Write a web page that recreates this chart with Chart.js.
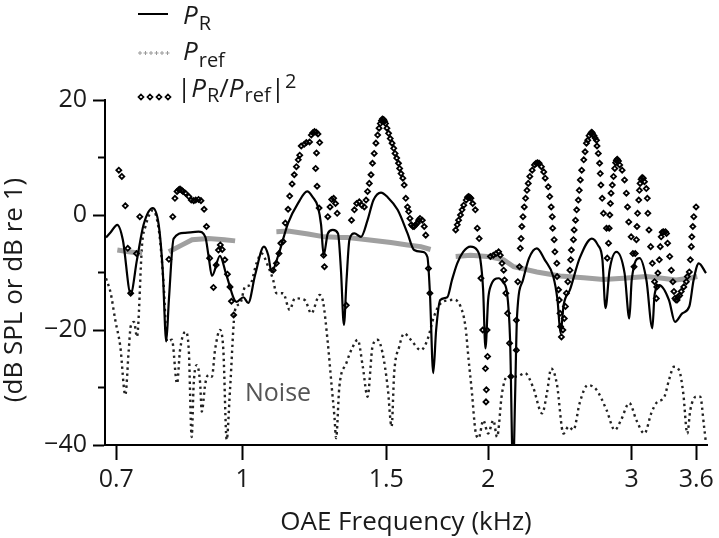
<!DOCTYPE html>
<html><head><meta charset="utf-8">
<script src="https://cdn.jsdelivr.net/npm/chart.js@4/dist/chart.umd.min.js"></script>
<style>html,body{margin:0;padding:0;background:#fff}</style>
</head><body>
<canvas id="c" width="719" height="538"></canvas>
<script>
// ---- tick definitions ----
const xTickValues = [0.7, 1, 1.5, 2, 3, 3.6];
const xTickLabels = ['0.7', '1', '1.5', '2', '3', '3.6'];
const yMajorTicks = [-40, -20, 0, 20];
const yMinorTicks = [-30, -10, 10];

// ---- P_R (solid line) ----
const prFreq = [0.680,0.689,0.702,0.713,0.729,0.742,0.756,0.776,0.789,0.798,0.806,0.812,0.823,0.850,0.883,0.900,0.908,0.917,0.938,0.955,0.983,1.002,1.016,1.036,1.062,1.075,1.085,1.106,1.137,1.170,1.200,1.219,1.237,1.248,1.257,1.272,1.290,1.309,1.320,1.331,1.341,1.352,1.371,1.397,1.423,1.447,1.478,1.506,1.549,1.593,1.623,1.661,1.685,1.697,1.713,1.727,1.747,1.782,1.806,1.833,1.864,1.903,1.939,1.957,1.972,1.985,2.000,2.013,2.061,2.086,2.110,2.128,2.146,2.158,2.170,2.207,2.245,2.295,2.347,2.404,2.433,2.454,2.475,2.520,2.590,2.680,2.726,2.762,2.786,2.818,2.873,2.940,2.980,3.000,3.067,3.127,3.180,3.200,3.243,3.333,3.390,3.460,3.530,3.573,3.625,3.700];
const prDb = [-3.9,-3.0,-1.7,-4.3,-13.7,-7.8,-1.7,1.2,-1.7,-9.6,-22.0,-14.8,-4.1,-3.1,-2.9,-3.8,-7.0,-10.6,-7.1,-10.4,-15.1,-14.3,-15.3,-10.4,-5.5,-7.0,-9.9,-7.0,-1.4,2.1,4.1,3.1,1.4,-1.7,-7.0,-3.2,-2.6,-3.2,-9.6,-19.1,-11.3,-4.3,-3.2,-3.8,-0.9,2.6,3.9,3.1,0.9,-3.2,-6.1,-6.4,-7.3,-13.6,-27.5,-20.0,-14.8,-14.3,-11.3,-8.4,-6.4,-5.5,-6.1,-7.8,-13.0,-23.2,-14.8,-12.5,-11.0,-11.7,-13.6,-21.7,-45,-32,-17.7,-11.3,-7.5,-5.8,-7.8,-10.7,-14.8,-20.6,-15.7,-13.0,-7.5,-4.1,-5.2,-7.8,-16.2,-9.6,-6.4,-10.1,-18.0,-11.3,-7.5,-11.3,-19.7,-13.9,-12.2,-14.8,-18.6,-17.1,-15.9,-11.3,-8.4,-10.1];

// ---- P_ref (grey), four segments ----
const prefFreq1 = [0.702,0.725,0.753];
const prefDb1 = [-6.1,-6.4,-6.7];
const prefFreq2 = [0.812,0.843,0.867,0.908,0.950,0.979];
const prefDb2 = [-6.4,-5.2,-4.3,-4.1,-4.3,-4.5];
const prefFreq3 = [1.100,1.137,1.203,1.260,1.320,1.346,1.423,1.520,1.593,1.654,1.700];
const prefDb3 = [-2.9,-2.8,-3.3,-3.8,-3.9,-3.9,-4.3,-4.8,-5.2,-5.5,-6.0];
const prefFreq4 = [1.825,1.903,1.994,2.090,2.150,2.295,2.450,2.620,2.770,2.930,3.126,3.270,3.400,3.530,3.610];
const prefDb4 = [-7.2,-7.0,-7.2,-7.8,-9.0,-9.9,-10.6,-10.9,-11.2,-11.0,-10.7,-11.0,-11.3,-11.0,-10.7];

// ---- |P_R/P_ref|^2 (diamonds) ----
const ratioFreq = [0.705,0.711,0.718,0.723,0.729,0.741,0.748,
 0.812,0.821,0.826,0.831,0.835,0.838,0.842,0.845,0.851,0.859,0.865,0.871,0.876,0.883,0.889,0.897,0.903,0.911,0.921,0.928,0.934,0.939,0.944,0.951,0.958,0.965,0.969,0.975,
 1.090,1.100,1.108,1.114,1.121,1.128,1.137,1.142,1.150,1.157,1.164,1.170,1.175,1.180,1.190,1.197,1.208,1.214,1.219,1.225,1.231,1.237,1.243,1.232,1.229,1.234,1.241,1.257,1.260,
 1.272,1.280,1.286,1.293,1.300,1.306,1.340,
 1.360,1.371,1.380,1.390,1.400,1.410,1.417,1.423,1.430,1.437,1.443,1.450,1.457,1.464,1.470,1.475,1.480,1.484,1.489,1.493,1.497,1.503,1.510,1.517,1.525,1.532,1.538,1.545,1.553,1.558,1.564,1.572,1.578,1.585,1.593,1.598,1.604,1.610,1.617,1.623,1.630,1.638,1.644,1.650,1.661,1.670,1.677,1.690,1.697,
 1.825,1.833,1.840,1.850,1.858,1.867,1.880,1.887,1.893,1.899,1.905,1.915,1.929,1.940,1.950,1.960,1.970,1.994,1.997,1.985,1.990,1.988,
 2.013,2.030,2.045,2.060,2.070,2.080,2.090,2.095,2.103,2.113,2.125,2.133,
 2.166,2.166,2.175,2.185,2.190,2.195,2.200,2.207,2.215,2.223,2.232,2.240,2.250,2.265,2.280,2.290,2.300,2.310,2.325,2.340,2.350,2.370,2.380,2.390,2.397,2.400,2.410,2.415,2.428,2.430,2.440,2.445,2.450,2.454,2.460,2.470,2.480,2.488,2.495,2.505,2.520,2.525,2.530,2.545,2.550,2.560,2.568,2.580,2.587,2.595,2.605,2.620,2.630,2.640,2.650,2.660,2.672,2.680,2.685,2.697,2.705,2.716,2.720,2.730,2.740,2.745,2.750,2.760,2.770,2.794,2.800,2.810,2.815,2.820,2.825,2.830,2.840,2.850,2.860,2.867,2.873,2.880,2.890,2.900,2.920,2.940,2.955,2.965,2.975,2.995,3.010,3.020,3.030,3.040,3.045,3.050,3.060,3.066,3.072,3.080,3.090,3.100,3.110,3.126,3.135,3.140,3.150,3.165,3.180,3.200,3.216,3.220,3.230,3.243,3.252,3.260,3.270,3.280,3.300,3.310,3.320,3.340,3.355,3.370,3.380,3.390,3.400,3.410,3.420,3.435,3.450,3.475,3.500,3.510,3.530,3.540,3.550,3.555,3.565,3.575,3.598];
const ratioDb = [7.8,6.7,1.6,-5.8,-13.6,-6.7,-0.3,
 -7.7,-0.3,2.9,4.1,4.4,4.5,4.3,4.1,3.8,3.2,2.6,2.5,2.6,2.7,2.5,1.0,-2.0,-7.5,-12.6,-8.7,-6.1,-5.2,-6.0,-7.8,-10.3,-12.5,-15.0,-17.4,
 -9.6,-8.4,-6.7,-4.9,-4.6,-1.4,1.0,3.3,5.4,7.0,8.4,9.6,10.4,12.0,12.3,12.6,12.7,13.9,14.3,14.5,14.4,14.1,12.6,10.8,8.1,5.0,1.2,-7.0,-9.0,
 -0.3,1.4,2.7,2.9,2.0,0.3,-15.7,
 -0.9,0.9,2.0,2.3,1.7,1.4,2.6,4.1,5.5,7.0,9.0,10.7,12.5,13.9,15.1,15.9,16.4,16.7,16.6,16.3,15.9,15.1,14.2,13.3,12.5,11.6,10.7,9.9,9.0,8.1,7.2,6.4,5.2,2.9,1.4,0.6,-0.6,-1.7,-2.0,-2.0,-1.7,-1.4,-0.9,-0.6,-0.9,-2.0,-3.5,-9.3,-13.6,
 -2.6,-1.7,-0.9,0,0.9,1.7,2.6,3.1,3.2,3.1,2.9,2.0,0.9,-2.3,-4.1,-11,-20,-20,-24.6,-26.7,-30.4,-32.5,
 -7.2,-7.0,-6.7,-6.4,-7.0,-8.4,-9.6,-11.3,-13.6,-17.1,-22.3,-28.1,
 -23.5,-18.3,-11.6,-9.0,-5.8,-4.1,-2.0,-0.3,1.4,2.9,4.3,5.5,6.7,7.8,8.7,9.0,9.1,9.0,8.4,7.5,6.4,4.9,3.2,1.4,-0.3,-2.3,-4.3,-6.4,-8.4,-10.7,-13.0,-14.8,-17.1,-19.4,-21.2,-20.0,-18.0,-15.9,-13.6,-11.6,-9.6,-7.8,-6.1,-4.3,-2.6,-0.9,0.9,2.6,4.3,6.1,7.8,9.6,11.0,12.5,13.0,13.8,14.2,14.4,14.2,13.8,13.4,13.0,12.0,10.7,9.0,7.2,5.2,2.9,0.3,-2.3,-7.5,-4.9,-2.3,0,2.0,3.8,5.2,6.7,8.1,9.1,9.5,9.7,9.4,8.7,7.8,6.1,3.8,1.4,-1.2,-3.8,-6.7,-9.0,-6.7,-4.3,-2.0,0.3,2.6,4.3,5.5,6.2,6.5,6.4,5.8,4.6,2.9,0.3,-2.6,-5.5,-8.4,-11.6,-14.5,-12.5,-10.1,-7.8,-5.5,-3.8,-3.0,-2.9,-2.9,-3.2,-4.9,-7.2,-9.6,-11.6,-13.3,-14.5,-14.8,-14.8,-14.2,-14.0,-13.3,-12.5,-11.6,-10.7,-9.9,-7.8,-5.5,-3.8,-2.0,-0.3,1.4,2.6,3.2];

// ---- Noise (dotted) ----
const noiseFreq = [0.680,0.689,0.698,0.708,0.718,0.725,0.729,0.736,0.742,0.753,0.760,0.776,0.790,0.800,0.808,0.819,0.831,0.838,0.851,0.859,0.866,0.871,0.879,0.887,0.891,0.900,0.908,0.917,0.925,0.938,0.947,0.956,0.965,0.979,0.993,1.007,1.021,1.040,1.055,1.075,1.090,1.100,1.121,1.142,1.159,1.192,1.214,1.243,1.255,1.272,1.286,1.296,1.302,1.314,1.340,1.365,1.384,1.404,1.423,1.443,1.464,1.485,1.506,1.523,1.534,1.556,1.578,1.608,1.654,1.685,1.716,1.748,1.798,1.816,1.850,1.876,1.893,1.911,1.929,1.947,1.973,2.000,2.030,2.051,2.080,2.110,2.170,2.220,2.270,2.330,2.361,2.390,2.428,2.474,2.510,2.545,2.590,2.650,2.716,2.794,2.860,2.910,2.980,3.040,3.110,3.170,3.216,3.290,3.333,3.380,3.430,3.470,3.510,3.540,3.598,3.640,3.680,3.700];
const noiseDb = [-11.0,-13.6,-18.3,-22.9,-31.3,-23.5,-19.4,-18.6,-21.2,-4.9,-2.0,0.8,-3.0,-12.0,-22.0,-21.7,-29.3,-23.5,-20.3,-23.5,-38.6,-29.3,-26.1,-29.3,-34.2,-29.3,-27.8,-28.1,-23.5,-20.0,-23.5,-39.1,-30.4,-16.5,-15.4,-12.5,-12.2,-8.4,-6.7,-9.0,-11.3,-13.6,-13.6,-16.5,-14.5,-14.8,-17.1,-13.9,-15.1,-22.3,-29.9,-35.1,-38.8,-29.9,-25.8,-22.9,-21.7,-26.4,-31.6,-22.9,-21.7,-24.1,-29.9,-36.8,-27.5,-22.9,-20.6,-21.7,-23.5,-21.7,-17.7,-15.4,-14.8,-14.7,-15.9,-19.4,-25.2,-31.0,-37.4,-38.8,-35.7,-38.0,-35.7,-38.6,-31.0,-28.1,-28.1,-27.5,-29.9,-34.5,-31.0,-26.7,-29.3,-38.0,-36.8,-37.4,-32.7,-29.6,-30.4,-33.9,-37.4,-35.7,-32.7,-35.7,-38.0,-34.5,-32.7,-31.6,-28.7,-26.4,-27.0,-31.0,-38.0,-33.9,-31.6,-31.6,-36.8,-39.7];

const pts = (fs, vs) => fs.map((f, i) => ({x: f, y: vs[i]}));
const FONT = '"Open Sans", "DejaVu Sans", sans-serif';
const INK = '#1a1a1a';
const GREY = '#a0a0a0';

const decor = {
  id: 'decor',
  afterDraw(chart) {
    const ctx = chart.ctx, ys = chart.scales.y, left = chart.chartArea.left;
    ctx.save();
    // minor y ticks
    ctx.strokeStyle = '#000'; ctx.lineWidth = 2;
    yMinorTicks.forEach(v => {
      const py = ys.getPixelForValue(v);
      ctx.beginPath(); ctx.moveTo(left - 7, py); ctx.lineTo(left, py); ctx.stroke();
    });
    // axis titles
    ctx.fillStyle = INK; ctx.textBaseline = 'alphabetic';
    ctx.font = '26px ' + FONT; ctx.textAlign = 'center';
    ctx.fillText('OAE Frequency (kHz)', 406, 530);
    ctx.save(); ctx.translate(22, 290); ctx.rotate(-Math.PI / 2);
    ctx.fillText('(dB SPL or dB re 1)', 0, 0); ctx.restore();
    // Noise annotation
    ctx.fillStyle = '#555'; ctx.textAlign = 'left'; ctx.font = '25px ' + FONT;
    ctx.fillText('Noise', 245, 401);
    // legend
    ctx.fillStyle = INK;
    const big = 'italic 26px ' + FONT, norm = '26px ' + FONT, sub = '20px ' + FONT;
    const rich = (parts, x, base) => {
      parts.forEach(p => {
        ctx.font = p.f; ctx.fillText(p.t, x, base + (p.dy || 0));
        x += ctx.measureText(p.t).width + (p.gap || 0);
      });
    };
    ctx.strokeStyle = '#000'; ctx.lineWidth = 2;
    ctx.beginPath(); ctx.moveTo(138, 14); ctx.lineTo(168, 14); ctx.stroke();
    ctx.strokeStyle = '#999'; ctx.lineWidth = 1;
    for (let i = 0; i < 6; i++) {
      const cx = 140 + i * 5.5;
      ctx.beginPath(); ctx.moveTo(cx - 2, 53); ctx.lineTo(cx + 2, 53);
      ctx.moveTo(cx, 51); ctx.lineTo(cx, 55); ctx.stroke();
    }
    ctx.strokeStyle = '#000'; ctx.lineWidth = 1.7;
    for (let i = 0; i < 4; i++) {
      const cx = 141 + i * 9;
      ctx.beginPath(); ctx.moveTo(cx, 94.5); ctx.lineTo(cx + 2.5, 97); ctx.lineTo(cx, 99.5); ctx.lineTo(cx - 2.5, 97); ctx.closePath(); ctx.stroke();
    }
    rich([{t: 'P', f: big, gap: 1}, {t: 'R', f: sub, dy: 6}], 183, 24);
    rich([{t: 'P', f: big, gap: 1}, {t: 'ref', f: sub, dy: 7}], 183, 60);
    rich([{t: '|', f: norm}, {t: 'P', f: big, gap: 1}, {t: 'R', f: sub, dy: 5}, {t: '/', f: norm},
          {t: 'P', f: big, gap: 1}, {t: 'ref', f: sub, dy: 5}, {t: '|', f: norm}, {t: '2', f: sub, dy: -9}], 177, 97);
    ctx.restore();
  }
};

const greyLine = (fs, vs) => ({data: pts(fs, vs), showLine: true, borderColor: GREY, borderWidth: 5, pointRadius: 0});

new Chart(document.getElementById('c'), {
  type: 'scatter',
  data: {
    datasets: [
      {label: '|PR/Pref|^2', data: pts(ratioFreq, ratioDb), showLine: false, pointStyle: 'rectRot',
       pointRadius: 2.5, borderColor: '#000', backgroundColor: 'rgba(255,255,255,0)', pointBorderWidth: 1.8},
      {label: 'PR', data: pts(prFreq, prDb), showLine: true, borderColor: '#000', borderWidth: 2.2,
       pointRadius: 0, cubicInterpolationMode: 'monotone'},
      greyLine(prefFreq1, prefDb1),
      greyLine(prefFreq2, prefDb2),
      greyLine(prefFreq3, prefDb3),
      greyLine(prefFreq4, prefDb4),
      {label: 'Noise', data: pts(noiseFreq, noiseDb), showLine: true, borderColor: '#222', borderWidth: 2.4,
       borderDash: [2.4, 3.6], pointRadius: 0, cubicInterpolationMode: 'monotone'}
    ]
  },
  options: {
    responsive: false, animation: false, devicePixelRatio: 1,
    layout: {padding: {top: 100, right: 7, left: 0, bottom: 0}},
    plugins: {legend: {display: false}, tooltip: {enabled: false}},
    scales: {
      x: {
        type: 'logarithmic', min: 0.678, max: 3.72,
        afterBuildTicks: s => { s.ticks = xTickValues.map(v => ({value: v})); },
        afterFit: s => { s.height = 93; },
        grid: {display: true, drawOnChartArea: false, drawTicks: true, tickLength: 15, tickWidth: 2, tickColor: '#000'},
        border: {display: true, color: '#000', width: 2},
        ticks: {autoSkip: false, maxRotation: 0, padding: 5, color: INK, font: {family: FONT, size: 25},
          callback: v => { const i = xTickValues.indexOf(v); return i >= 0 ? xTickLabels[i] : ''; }}
      },
      y: {
        min: -40, max: 20,
        afterBuildTicks: s => { s.ticks = yMajorTicks.map(v => ({value: v})); },
        afterFit: s => { s.width = 105; },
        grid: {display: true, drawOnChartArea: false, drawTicks: true, tickLength: 12, tickWidth: 2, tickColor: '#000'},
        border: {display: true, color: '#000', width: 2},
        ticks: {padding: 6, color: INK, font: {family: FONT, size: 25},
          callback: v => (v < 0 ? '\u2212' + Math.abs(v) : String(v))}
      }
    }
  },
  plugins: [decor]
});
</script>
</body></html>
